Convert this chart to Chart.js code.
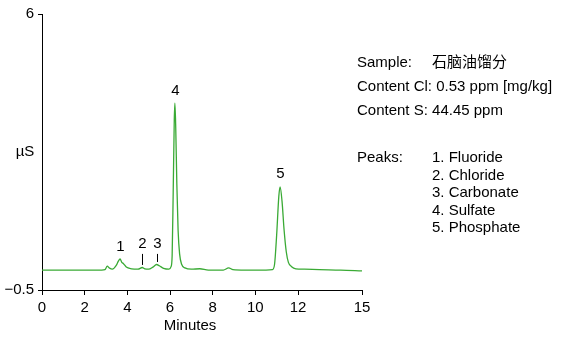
<!DOCTYPE html>
<html>
<head>
<meta charset="utf-8">
<script src="https://cdn.jsdelivr.net/npm/chart.js@4.4.1/dist/chart.umd.min.js"></script>
<style>
  html, body { margin: 0; padding: 0; background: #fff; }
  canvas { display: block; }
</style>
</head>
<body>
<canvas id="c" width="571" height="342"></canvas>
<script>
// Retention time (min) and conductivity (µS) of the chromatogram trace
const times = [0, 1.0, 2.0, 2.8, 2.95, 3.06, 3.15, 3.3, 3.48, 3.58, 3.66, 3.74, 3.82, 3.95, 4.2, 4.5, 4.7, 4.82,
  5.0, 5.2, 5.37, 5.5, 5.7, 5.95, 6.05, 6.1, 6.15, 6.2, 6.23, 6.27, 6.32, 6.38, 6.45, 6.55, 6.7, 7.0, 7.4, 7.8,
  8.5, 8.75, 8.95, 9.5, 10.5, 10.8, 10.9, 11.0, 11.1, 11.16, 11.25, 11.35, 11.45, 11.55, 11.7, 11.9, 12.3, 13.0, 14.0, 15.0];
const signal = [-0.03, -0.03, -0.03, -0.03, -0.02, 0.06, 0.02, -0.01, 0.08, 0.18, 0.23, 0.15, 0.12, 0.04, 0.0, -0.01, 0.03, 0.0,
  -0.01, 0.04, 0.1, 0.07, 0.01, -0.01, 0.05, 0.3, 1.8, 3.5, 3.9, 3.3, 2.0, 0.9, 0.35, 0.1, 0.02, -0.01, 0.0, -0.03,
  -0.03, 0.02, -0.02, -0.03, -0.03, -0.02, 0.1, 0.8, 1.7, 1.93, 1.6, 0.9, 0.4, 0.15, 0.05, 0.0, -0.01, -0.02, -0.03, -0.05];

// Peak annotations: number, retention time, peak height
const peakNumbers = ['1', '2', '3', '4', '5'];
const peakTimes = [3.66, 4.7, 5.37, 6.23, 11.16];
const peakHeights = [0.23, 0.03, 0.1, 3.9, 1.93];
// Peaks 2 and 3 are marked with a short leader line (top, bottom in µS)
const leaderTops = [null, 0.35, 0.35, null, null];
const leaderBottoms = [null, 0.09, 0.16, null, null];

// Axis ticks
const xTicks = [0, 2, 4, 6, 8, 10, 12, 15];
const yTicks = [-0.5, 6];

// Sample information
const infoLines = [['Sample:', '石脑油馏分'], ['Content Cl: 0.53 ppm [mg/kg]', ''], ['Content S: 44.45 ppm', '']];
const peakNames = ['1. Fluoride', '2. Chloride', '3. Carbonate', '4. Sulfate', '5. Phosphate'];

const FONT = '"Liberation Sans", Arial, "Noto Sans CJK SC", sans-serif';

const annotations = {
  id: 'annotations',
  afterDatasetsDraw(chart) {
    const ctx = chart.ctx;
    const xs = chart.scales.x, ys = chart.scales.y;
    ctx.save();
    ctx.fillStyle = '#000';
    ctx.strokeStyle = '#000';
    ctx.lineWidth = 1;
    ctx.font = '15px ' + FONT;
    ctx.textAlign = 'center';
    ctx.textBaseline = 'bottom';
    peakNumbers.forEach((n, i) => {
      const px = Math.round(xs.getPixelForValue(peakTimes[i])) + 0.5;
      if (leaderTops[i] !== null) {
        const yt = ys.getPixelForValue(leaderTops[i]);
        const yb = ys.getPixelForValue(leaderBottoms[i]);
        ctx.beginPath();
        ctx.moveTo(px, yt);
        ctx.lineTo(px, yb);
        ctx.stroke();
        ctx.fillText(n, px, yt - 3);
      } else {
        ctx.fillText(n, px, ys.getPixelForValue(peakHeights[i]) - 5);
      }
    });

    // axis titles
    ctx.textBaseline = 'middle';
    ctx.fillText('µS', 25, (chart.chartArea.top + chart.chartArea.bottom) / 2);
    ctx.fillText('Minutes', 190, 326);

    // sample information block
    ctx.font = '15px ' + FONT;
    ctx.textAlign = 'left';
    const infoY = [63, 87, 111];
    infoLines.forEach((l, i) => {
      ctx.fillText(l[0], 357, infoY[i]);
      if (l[1]) ctx.fillText(l[1], 432, infoY[i]);
    });
    ctx.fillText('Peaks:', 357, 158);
    peakNames.forEach((p, i) => ctx.fillText(p, 432, 158 + i * 17.5));
    ctx.restore();
  }
};

new Chart(document.getElementById('c'), {
  type: 'line',
  data: {
    datasets: [{
      data: times.map((t, i) => ({ x: t, y: signal[i] })),
      borderColor: '#3aaa35',
      borderWidth: 1.3,
      pointRadius: 0,
      cubicInterpolationMode: 'monotone',
      fill: false
    }]
  },
  options: {
    responsive: false,
    animation: false,
    devicePixelRatio: 1,
    layout: { padding: { left: 0, top: 14, right: 209, bottom: 0 } },
    plugins: { legend: { display: false }, tooltip: { enabled: false } },
    scales: {
      x: {
        type: 'linear',
        min: 0, max: 15,
        afterBuildTicks: s => { s.ticks = xTicks.map(v => ({ value: v })); },
        afterFit: s => { s.height = 52; },
        grid: { drawOnChartArea: false, drawTicks: true, tickLength: 5, color: '#000' },
        border: { display: true, color: '#000', width: 1 },
        ticks: { color: '#000', font: { family: FONT, size: 15 }, padding: 4, maxRotation: 0, autoSkip: false }
      },
      y: {
        min: -0.5, max: 6,
        afterBuildTicks: s => { s.ticks = yTicks.map(v => ({ value: v })); },
        afterFit: s => { s.width = 42; },
        grid: { drawOnChartArea: false, drawTicks: true, tickLength: 4, color: '#000' },
        border: { display: true, color: '#000', width: 1 },
        ticks: {
          color: '#000', font: { family: FONT, size: 15 }, padding: 4, autoSkip: false,
          callback: v => (v < 0 ? '\u2212' + Math.abs(v) : String(v))
        }
      }
    }
  },
  plugins: [annotations]
});
</script>
</body>
</html>
